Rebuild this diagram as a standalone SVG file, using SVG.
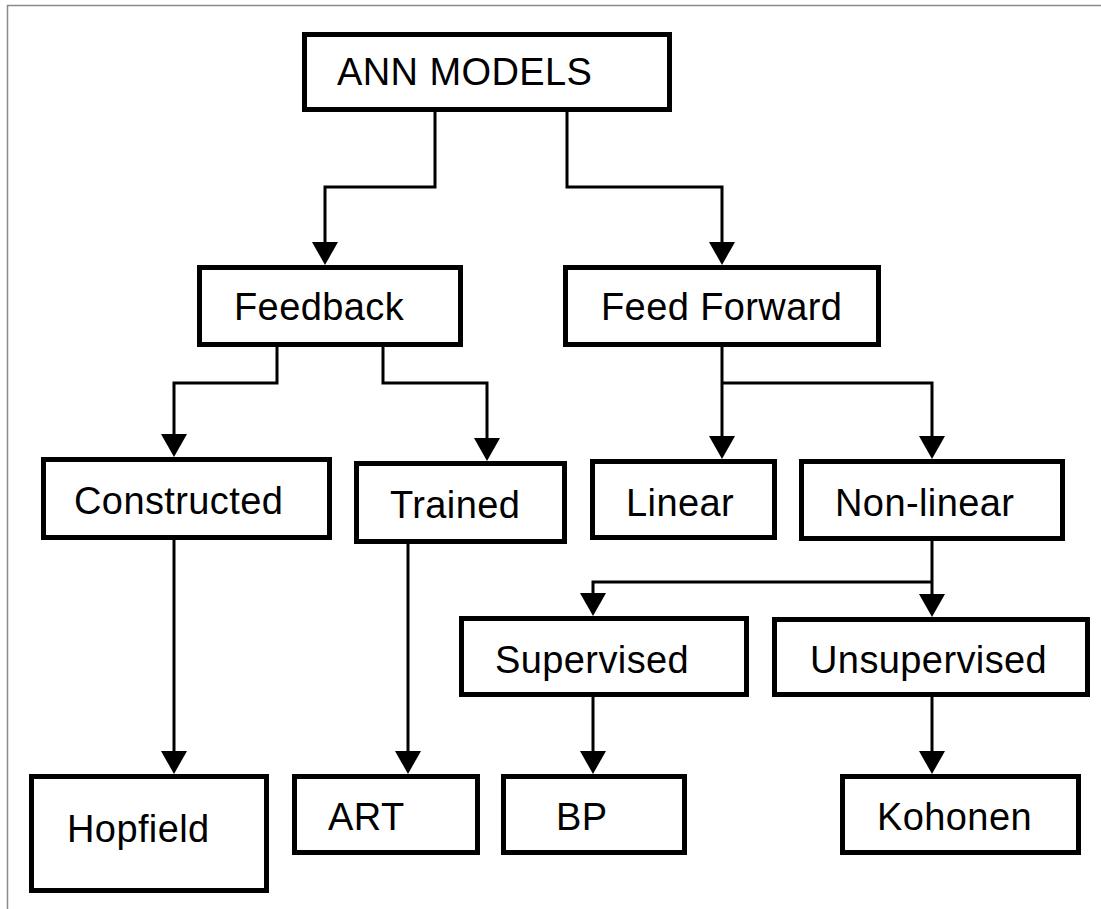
<svg xmlns="http://www.w3.org/2000/svg" width="1101" height="909" viewBox="0 0 1101 909">
  <style>
    .box { fill: #ffffff; stroke: #000000; stroke-width: 5; }
    .lbl { font-family: "Liberation Sans", Arial, sans-serif; font-size: 38px; letter-spacing: 0.4px; fill: #000000; }
    .conn { fill: none; stroke: #000000; stroke-width: 3; }
  </style>
  <defs>
    <marker id="arrow" viewBox="0 0 23 26" refX="13" refY="13" markerWidth="23" markerHeight="26" markerUnits="userSpaceOnUse" orient="auto">
      <path d="M0,0 L23,13 L0,26 z" fill="#000000"/>
    </marker>
  </defs>
  <rect x="0" y="0" width="1101" height="909" fill="#ffffff"/>
  <rect x="7.5" y="5.5" width="1110" height="920" fill="none" stroke="#8a8a8a" stroke-width="1.5"/>

  <g id="connectors">
    <path class="conn" d="M435,112 V187 H325 V255" marker-end="url(#arrow)"/>
    <path class="conn" d="M567,112 V187 H722 V255" marker-end="url(#arrow)"/>
    <path class="conn" d="M277,347 V383 H174 V447" marker-end="url(#arrow)"/>
    <path class="conn" d="M383,347 V383 H487 V451" marker-end="url(#arrow)"/>
    <path class="conn" d="M722,347 V449" marker-end="url(#arrow)"/>
    <path class="conn" d="M722,383 H932 V449" marker-end="url(#arrow)"/>
    <path class="conn" d="M174,540 V764" marker-end="url(#arrow)"/>
    <path class="conn" d="M408,544 V764" marker-end="url(#arrow)"/>
    <path class="conn" d="M932,541 V607" marker-end="url(#arrow)"/>
    <path class="conn" d="M932,582 H593 V606" marker-end="url(#arrow)"/>
    <path class="conn" d="M593,697 V764" marker-end="url(#arrow)"/>
    <path class="conn" d="M932,697 V764" marker-end="url(#arrow)"/>
  </g>

  <g id="ann-models">
    <rect class="box" x="304.5" y="34.5" width="365" height="75"/>
    <text class="lbl" x="337" y="85">ANN MODELS</text>
  </g>
  <g id="feedback">
    <rect class="box" x="199.5" y="267.5" width="261" height="77"/>
    <text class="lbl" x="234" y="320">Feedback</text>
  </g>
  <g id="feed-forward">
    <rect class="box" x="565.5" y="267.5" width="313" height="77"/>
    <text class="lbl" x="601" y="320">Feed Forward</text>
  </g>
  <g id="constructed">
    <rect class="box" x="43.5" y="459.5" width="286" height="78"/>
    <text class="lbl" x="74" y="514">Constructed</text>
  </g>
  <g id="trained">
    <rect class="box" x="356.5" y="463.5" width="208" height="78"/>
    <text class="lbl" x="390" y="518">Trained</text>
  </g>
  <g id="linear">
    <rect class="box" x="592.5" y="461.5" width="182" height="76"/>
    <text class="lbl" x="626" y="516">Linear</text>
  </g>
  <g id="non-linear">
    <rect class="box" x="801.5" y="461.5" width="261" height="77"/>
    <text class="lbl" x="835" y="516">Non-linear</text>
  </g>
  <g id="supervised">
    <rect class="box" x="461.5" y="618.5" width="285" height="76"/>
    <text class="lbl" x="495" y="673">Supervised</text>
  </g>
  <g id="unsupervised">
    <rect class="box" x="774.5" y="619.5" width="313" height="75"/>
    <text class="lbl" x="810" y="673">Unsupervised</text>
  </g>
  <g id="hopfield">
    <rect class="box" x="31.5" y="776.5" width="235" height="114"/>
    <text class="lbl" x="67" y="842">Hopfield</text>
  </g>
  <g id="art">
    <rect class="box" x="294.5" y="776.5" width="183" height="76"/>
    <text class="lbl" x="328" y="830">ART</text>
  </g>
  <g id="bp">
    <rect class="box" x="503.5" y="776.5" width="181" height="76"/>
    <text class="lbl" x="556" y="830">BP</text>
  </g>
  <g id="kohonen">
    <rect class="box" x="842.5" y="776.5" width="236" height="76"/>
    <text class="lbl" x="877" y="830">Kohonen</text>
  </g>
</svg>
